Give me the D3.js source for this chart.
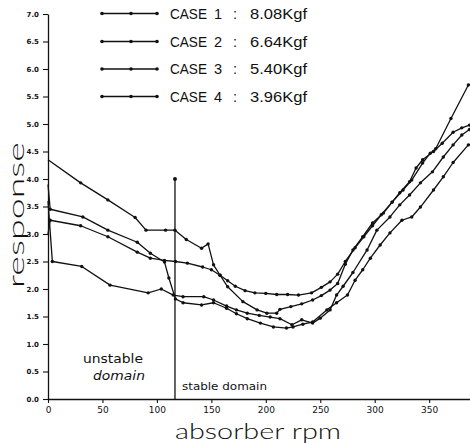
<!DOCTYPE html>
<html>
<head>
<meta charset="utf-8">
<script src="https://cdn.jsdelivr.net/npm/d3@7"></script>
<style>
  html, body { margin: 0; padding: 0; background: #fff; }
  svg { display: block; }
</style>
</head>
<body>
<svg id="chart" width="470" height="443"></svg>
<script>
// ---- data ----
const xTicks = [0, 50, 100, 150, 200, 250, 300, 350];
const yTicks = [0, 0.5, 1, 1.5, 2, 2.5, 3, 3.5, 4, 4.5, 5, 5.5, 6, 6.5, 7];
const caseNames = ["CASE", "CASE", "CASE", "CASE"];
const caseNums = ["1", "2", "3", "4"];
const caseLoads = ["8.08Kgf", "6.64Kgf", "5.40Kgf", "3.96Kgf"];

const case1 = [[0,4.35],[30,3.93],[55,3.62],[80,3.3],[90,3.07],[108,3.07],[116.6,3.07],[127,2.9],[141,2.74],[147,2.82],[152,2.44],[158,2.25],[165,2.04],[179,1.77],[192,1.62],[201,1.56],[210,1.56],[213,1.63],[223,1.68],[233,1.73],[243,1.8],[251,1.88],[259,1.98],[266,2.1],[273,2.45],[280,2.71],[289,2.95],[298,3.2],[308,3.38],[316,3.58],[323,3.75],[332,3.95],[338,4.2],[344,4.35],[354,4.5],[362,4.65],[372,4.85],[380,4.93],[387,4.98]];
const case2 = [[0,3.9],[2,3.45],[32,3.31],[55,3.07],[82,2.85],[94,2.65],[107,2.49],[111,2.2],[117,1.82],[124,1.75],[141,1.71],[152,1.75],[164,1.65],[173,1.55],[183,1.46],[195,1.38],[207,1.31],[219,1.29],[225,1.31],[234,1.36],[243,1.4],[256,1.62],[265,1.75],[275,1.89],[282,2.16],[289,2.35],[296,2.56],[305,2.8],[314,3.02],[325,3.25],[334,3.31],[342,3.49],[354,3.8],[363,4.04],[372,4.3],[386,4.62]];
const case3 = [[0,3.0],[2,3.25],[30,3.15],[55,2.95],[82,2.67],[94,2.56],[107,2.52],[117,2.5],[128,2.47],[142,2.4],[150,2.35],[158,2.25],[165,2.15],[172,2.05],[181,1.97],[190,1.93],[200,1.92],[210,1.9],[220,1.9],[230,1.89],[242,1.93],[251,2.03],[259,2.13],[266,2.27],[273,2.5],[282,2.75],[290,2.95],[298,3.15],[306,3.35],[316,3.58],[326,3.8],[334,3.98],[344,4.29],[351,4.47],[356,4.55],[370,5.1],[386,5.71]];
const case4 = [[0,3.6],[4,2.5],[31,2.41],[57,2.07],[92,1.93],[104,2.0],[115,1.89],[124,1.86],[143,1.86],[152,1.8],[164,1.69],[173,1.62],[183,1.56],[194,1.52],[204,1.49],[213,1.46],[224,1.35],[233,1.44],[243,1.38],[250,1.47],[259,1.62],[265,1.89],[271,2.05],[280,2.3],[293,2.71],[302,3.07],[314,3.31],[323,3.53],[332,3.71],[342,3.93],[353,4.13],[363,4.4],[372,4.62],[380,4.8],[387,4.9]];
const seriesList = [case1, case2, case3, case4];

const boundaryRpm = 116.6;
const boundaryTop = 4.0;

// ---- layout ----
const W = 470, H = 443;
const margin = {left: 48, right: 0, top: 14, bottom: 44};
const svg = d3.select("#chart");
const x = d3.scaleLinear().domain([0, 387.5]).range([margin.left, W - margin.right]);
const y = d3.scaleLinear().domain([0, 7]).range([H - margin.bottom, margin.top]);
const ink = "#111";

// axes
const xAxis = svg.append("g")
  .attr("transform", `translate(0,${H - margin.bottom})`)
  .call(d3.axisBottom(x).tickValues(xTicks).tickSize(4).tickSizeOuter(0).tickPadding(4).tickFormat(d3.format("d")));
xAxis.select(".domain").attr("stroke", ink).attr("stroke-width", 1.3);
xAxis.selectAll(".tick line").attr("stroke", ink).attr("stroke-width", 1.1);
xAxis.selectAll("text").attr("font-family", "DejaVu Sans, sans-serif").attr("font-size", 9).attr("fill", ink);

const yAxis = svg.append("g")
  .attr("transform", `translate(${margin.left},0)`)
  .call(d3.axisLeft(y).tickValues(yTicks).tickSize(5).tickSizeOuter(0).tickPadding(4).tickFormat(d3.format(".1f")));
yAxis.select(".domain").attr("stroke", ink).attr("stroke-width", 1.3);
yAxis.selectAll(".tick line").attr("stroke", ink).attr("stroke-width", 1.1);
yAxis.selectAll("text").attr("font-family", "DejaVu Sans, sans-serif").attr("font-size", 7).attr("font-weight", "bold").attr("fill", ink);

// lines
const line = d3.line().x(d => x(d[0])).y(d => y(d[1]));
seriesList.forEach(s => {
  svg.append("path").datum(s)
    .attr("d", line).attr("fill", "none")
    .attr("stroke", ink).attr("stroke-width", 1.3).attr("stroke-linejoin", "round");
  svg.append("g").selectAll("circle").data(s.slice(1)).join("circle")
    .attr("cx", d => x(d[0])).attr("cy", d => y(d[1])).attr("r", 1.7).attr("fill", ink);
});

// stability boundary
svg.append("line")
  .attr("x1", x(boundaryRpm)).attr("x2", x(boundaryRpm))
  .attr("y1", y(0)).attr("y2", y(boundaryTop))
  .attr("stroke", ink).attr("stroke-width", 1.3);
svg.append("circle").attr("cx", x(boundaryRpm)).attr("cy", y(boundaryTop)).attr("r", 2).attr("fill", ink);

// annotations
svg.append("text").attr("x", 113).attr("y", 358).attr("text-anchor", "middle")
  .attr("dominant-baseline", "central")
  .attr("font-family", "DejaVu Sans, sans-serif").attr("font-size", 12.5).attr("fill", ink)
  .attr("textLength", 60).attr("lengthAdjust", "spacingAndGlyphs").text("unstable");
svg.append("text").attr("x", 119).attr("y", 375).attr("text-anchor", "middle")
  .attr("dominant-baseline", "central")
  .attr("font-family", "DejaVu Sans, sans-serif").attr("font-style", "italic").attr("font-size", 12.5).attr("fill", ink)
  .attr("textLength", 52).attr("lengthAdjust", "spacingAndGlyphs").text("domain");
svg.append("text").attr("x", 182).attr("y", 386)
  .attr("dominant-baseline", "central")
  .attr("font-family", "DejaVu Sans, sans-serif").attr("font-size", 11).attr("fill", ink)
  .attr("textLength", 85).attr("lengthAdjust", "spacingAndGlyphs").text("stable domain");

// axis titles
svg.append("text").attr("x", 258).attr("y", 430).attr("text-anchor", "middle")
  .attr("dominant-baseline", "central")
  .attr("font-family", "Lato, 'DejaVu Sans', sans-serif").attr("font-weight", 300).attr("font-size", 22).attr("fill", ink)
  .attr("textLength", 166).attr("lengthAdjust", "spacingAndGlyphs").text("absorber rpm");
svg.append("text").attr("transform", "translate(15,215) rotate(-90)").attr("text-anchor", "middle")
  .attr("dominant-baseline", "central")
  .attr("font-family", "Lato, 'DejaVu Sans', sans-serif").attr("font-weight", 300).attr("font-size", 22).attr("fill", ink)
  .attr("textLength", 146).attr("lengthAdjust", "spacingAndGlyphs").text("response");

// legend
const legY = [13.5, 41.5, 69, 96.5];
caseNums.forEach((n, i) => {
  const g = svg.append("g").attr("transform", `translate(0,${legY[i]})`);
  g.append("line").attr("x1", 102).attr("x2", 157).attr("y1", 0).attr("y2", 0)
    .attr("stroke", ink).attr("stroke-width", 1.3);
  [102, 131, 157].forEach(cx => g.append("circle").attr("cx", cx).attr("cy", 0).attr("r", 1.8).attr("fill", ink));
  const t = {"font-family": "'Liberation Sans', Arial, sans-serif", "font-size": 14.5, "fill": ink};
  const addT = (tx, txt, len) => {
    const e = g.append("text").attr("x", tx).attr("y", 0).attr("dominant-baseline", "central").text(txt);
    Object.entries(t).forEach(([k, v]) => e.attr(k, v));
    if (len) e.attr("textLength", len).attr("lengthAdjust", "spacingAndGlyphs");
  };
  addT(170, caseNames[i], 37);
  addT(214, n, null);
  addT(233, ":", null);
  addT(250, caseLoads[i], 57);
});
</script>
</body>
</html>
